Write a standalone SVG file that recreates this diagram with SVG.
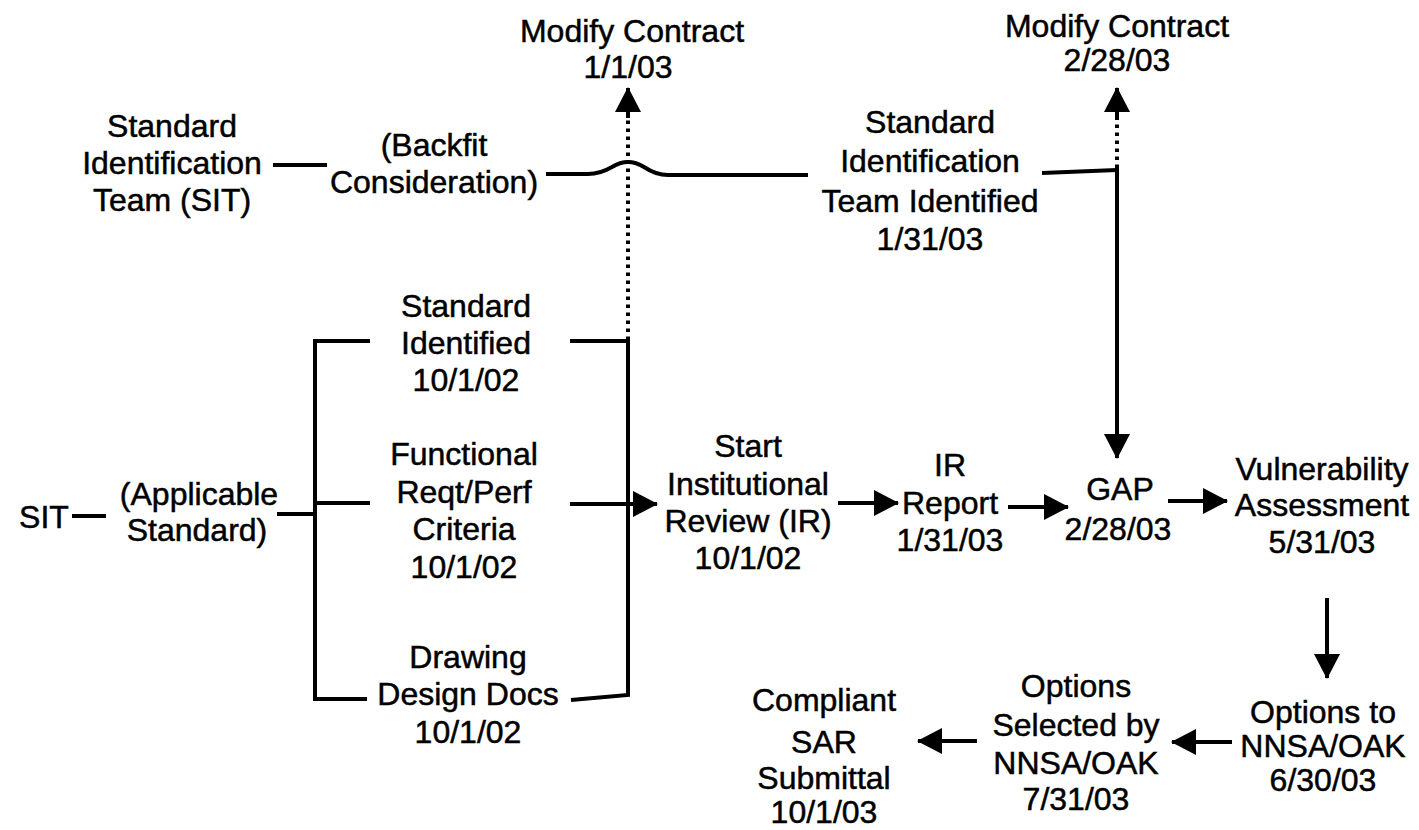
<svg xmlns="http://www.w3.org/2000/svg" width="1419" height="830" viewBox="0 0 1419 830">
<style>
text{font-family:"Liberation Sans",Arial,Helvetica,sans-serif;font-size:32px;fill:#000;stroke:#000;stroke-width:0.5;text-anchor:middle}
.ln{fill:none;stroke:#000;stroke-width:4;stroke-linejoin:miter}
.dot{fill:none;stroke:#000;stroke-width:4;stroke-dasharray:3.5 4.5}
</style>
<defs>
<marker id="arr" viewBox="0 0 25 26" refX="24" refY="13" markerWidth="25" markerHeight="26" markerUnits="userSpaceOnUse" orient="auto">
<path d="M0,0 L25,13 L0,26 Z" fill="#000"/>
</marker>
</defs>
<rect width="1419" height="830" fill="#fff"/>
<g id="connectors">
<path class="ln" d="M273,165 L327,165"/>
<path class="ln" d="M546,174 L588,174 Q600,174 612,167 Q628,157 644,167 Q656,175 668,175 L808,175"/>
<path class="dot" d="M628,340 L628,112"/>
<path class="ln" d="M628,118 L628,88" marker-end="url(#arr)"/>
<path class="ln" d="M1042,173 L1117,170"/>
<path class="dot" d="M1117,168 L1117,112"/>
<path class="ln" d="M1117,118 L1117,88" marker-end="url(#arr)"/>
<path class="ln" d="M1117,168 L1117,458" marker-end="url(#arr)"/>
<path class="ln" d="M72,516 L106,516"/>
<path class="ln" d="M277,514 L315,514"/>
<path class="ln" d="M370,341 L315,341 L315,699 L367,699"/>
<path class="ln" d="M315,503 L370,503"/>
<path class="ln" d="M570,341 L628,341 L628,695 L571,700"/>
<path class="ln" d="M570,504 L657,504" marker-end="url(#arr)"/>
<path class="ln" d="M838,503 L898,503" marker-end="url(#arr)"/>
<path class="ln" d="M1008,507 L1068,507" marker-end="url(#arr)"/>
<path class="ln" d="M1168,501 L1227,501" marker-end="url(#arr)"/>
<path class="ln" d="M1327,598 L1327,678" marker-end="url(#arr)"/>
<path class="ln" d="M1232,742 L1172,742" marker-end="url(#arr)"/>
<path class="ln" d="M977,741 L918,741" marker-end="url(#arr)"/>
</g>
<g id="modify1"><text x="632" y="42">Modify Contract</text><text x="628" y="78">1/1/03</text></g>
<g id="modify2"><text x="1117" y="37">Modify Contract</text><text x="1117" y="71">2/28/03</text></g>
<g id="sit-team"><text x="172" y="137">Standard</text><text x="172" y="174">Identification</text><text x="172" y="211">Team (SIT)</text></g>
<g id="backfit"><text x="434" y="156">(Backfit</text><text x="434" y="193">Consideration)</text></g>
<g id="sit-identified"><text x="930" y="133">Standard</text><text x="930" y="172">Identification</text><text x="930" y="212">Team Identified</text><text x="930" y="250">1/31/03</text></g>
<g id="sit"><text x="44" y="528">SIT</text></g>
<g id="applicable"><text x="199" y="505">(Applicable</text><text x="197" y="541">Standard)</text></g>
<g id="std-identified"><text x="466" y="317">Standard</text><text x="466" y="354">Identified</text><text x="466" y="391">10/1/02</text></g>
<g id="functional"><text x="464" y="465">Functional</text><text x="464" y="503">Reqt/Perf</text><text x="464" y="540">Criteria</text><text x="464" y="578">10/1/02</text></g>
<g id="drawing"><text x="468" y="668">Drawing</text><text x="468" y="705">Design Docs</text><text x="468" y="743">10/1/02</text></g>
<g id="start-ir"><text x="748" y="457">Start</text><text x="748" y="495">Institutional</text><text x="748" y="532">Review (IR)</text><text x="748" y="569">10/1/02</text></g>
<g id="ir-report"><text x="950" y="476">IR</text><text x="950" y="514">Report</text><text x="950" y="551">1/31/03</text></g>
<g id="gap"><text x="1120" y="500">GAP</text><text x="1118" y="540">2/28/03</text></g>
<g id="vulnerability"><text x="1322" y="480">Vulnerability</text><text x="1322" y="516">Assessment</text><text x="1322" y="553">5/31/03</text></g>
<g id="options-to"><text x="1323" y="723">Options to</text><text x="1323" y="757">NNSA/OAK</text><text x="1323" y="791">6/30/03</text></g>
<g id="options-selected"><text x="1076" y="697">Options</text><text x="1076" y="736">Selected by</text><text x="1076" y="774">NNSA/OAK</text><text x="1076" y="810">7/31/03</text></g>
<g id="compliant"><text x="824" y="711">Compliant</text><text x="824" y="753">SAR</text><text x="824" y="789">Submittal</text><text x="824" y="823">10/1/03</text></g>
</svg>
